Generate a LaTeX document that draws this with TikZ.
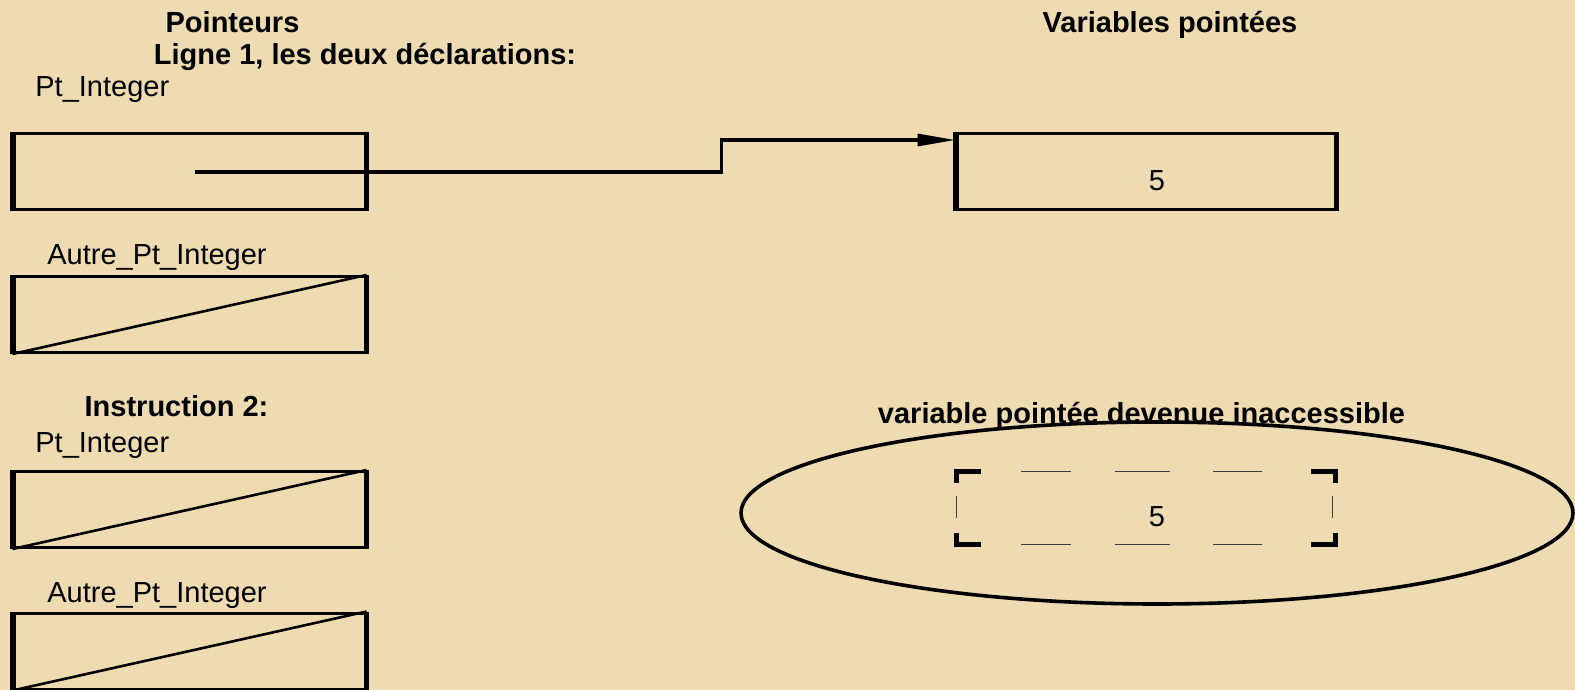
\documentclass[tikz,border=0pt]{standalone}
\usepackage{fontspec}
\setmainfont{Liberation Sans}
\usetikzlibrary{arrows.meta,calc,shapes.geometric}
\definecolor{parch}{RGB}{238,219,177}
\definecolor{dashgray}{RGB}{60,60,60}
\begin{document}
\begin{tikzpicture}[x=0.5pt,y=-0.5pt,
  font=\fontsize{14.5}{17}\selectfont,
  cell/.style={rectangle, draw, line width=1.5pt, minimum width=175.5pt, minimum height=38pt, inner sep=0pt},
  widecell/.style={cell, minimum width=189pt},
  side/.style={line width=2.6pt},
  diag/.style={line width=1.3pt},
  lbl/.style={anchor=base west, inner sep=0pt},
  ttl/.style={anchor=base, inner sep=0pt, font=\fontsize{14.5}{17}\selectfont\bfseries},
  val/.style={anchor=base, inner sep=0pt},
  conn/.style={line width=1.6pt, -{Triangle[length=19pt,width=6pt]}},
  dbox/.style={rectangle, inner sep=0pt, minimum width=189pt, minimum height=36pt},
  brk/.style={line width=2.6pt, line join=miter},
  thindash/.style={line width=0.7pt, dashgray},
  oval/.style={ellipse, draw, line width=1.8pt, minimum width=416pt, minimum height=91pt, inner sep=0pt}]
\useasboundingbox (0,0) rectangle (1575,690);
\fill[parch] (0,0) rectangle (1575,690);

% titles
\node[ttl] (tp) at (232.5,33) {Pointeurs};
\node[ttl] (tv) at (1170,33) {Variables pointées};
\node[ttl] (tl) at (365,65) {Ligne 1, les deux déclarations:};
\node[ttl] (ti) at (176.5,416) {Instruction 2:};

% labels
\node[lbl] (l1) at (35,97) {Pt\_Integer};
\node[lbl] (l2) at (47,264) {Autre\_Pt\_Integer};
\node[lbl] (l3) at (35,452) {Pt\_Integer};
\node[lbl] (l4) at (47,602) {Autre\_Pt\_Integer};

% pointer boxes
\node[cell] (b1) at (189.5,171.5) {};
\node[cell] (b3) at (189.5,314.5) {};
\node[cell] (b4) at (189.5,509.5) {};
\node[cell] (b5) at (189.5,651) {};
\foreach \b in {b1,b3,b4,b5}{
  \draw[side] (\b.north west) -- (\b.south west);
  \draw[side] (\b.north east) -- (\b.south east);
}
\foreach \b in {b3,b4,b5}{
  \draw[diag] (\b.south west) -- (\b.north east);
}

% pointed variable
\node[widecell] (b2) at (1146,171.5) {};
\draw[side] (b2.north west) -- (b2.south west);
\draw[side] (b2.north east) -- (b2.south east);
\node[val] (v1) at (1157,191) {5};

% connector
\coordinate (p0) at (195,172);
\draw[conn] (p0) -| ($(b2.north west)+(-234,8)$) -- ($(b2.north west)+(0,8)$);

% inaccessible variable
\node[oval] (ell) at (1157,513) {};
\node[ttl] (tn) at (1141.5,423) {variable pointée devenue inaccessible};
\node[dbox] (db) at (1146,508) {};
\node[val] (v2) at (1157,526) {5};
\draw[brk] ($(db.north west)+(0,11)$) -- (db.north west) -- ++(24,0);
\draw[brk] ($(db.south west)+(0,-11)$) -- (db.south west) -- ++(24,0);
\draw[brk] ($(db.north east)+(0,11)$) -- (db.north east) -- ++(-24,0);
\draw[brk] ($(db.south east)+(0,-11)$) -- (db.south east) -- ++(-24,0);
\foreach \a/\b in {64/114,158/213,256/305}{
  \draw[thindash] ($(db.north west)+(\a,0)$) -- ($(db.north west)+(\b,0)$);
  \draw[thindash] ($(db.south west)+(\a,0)$) -- ($(db.south west)+(\b,0)$);
}
\draw[thindash] ($(db.north west)+(0,24)$) -- ++(0,22);
\draw[thindash] ($(db.north east)+(-3,24)$) -- ++(0,22);
\end{tikzpicture}
\end{document}
